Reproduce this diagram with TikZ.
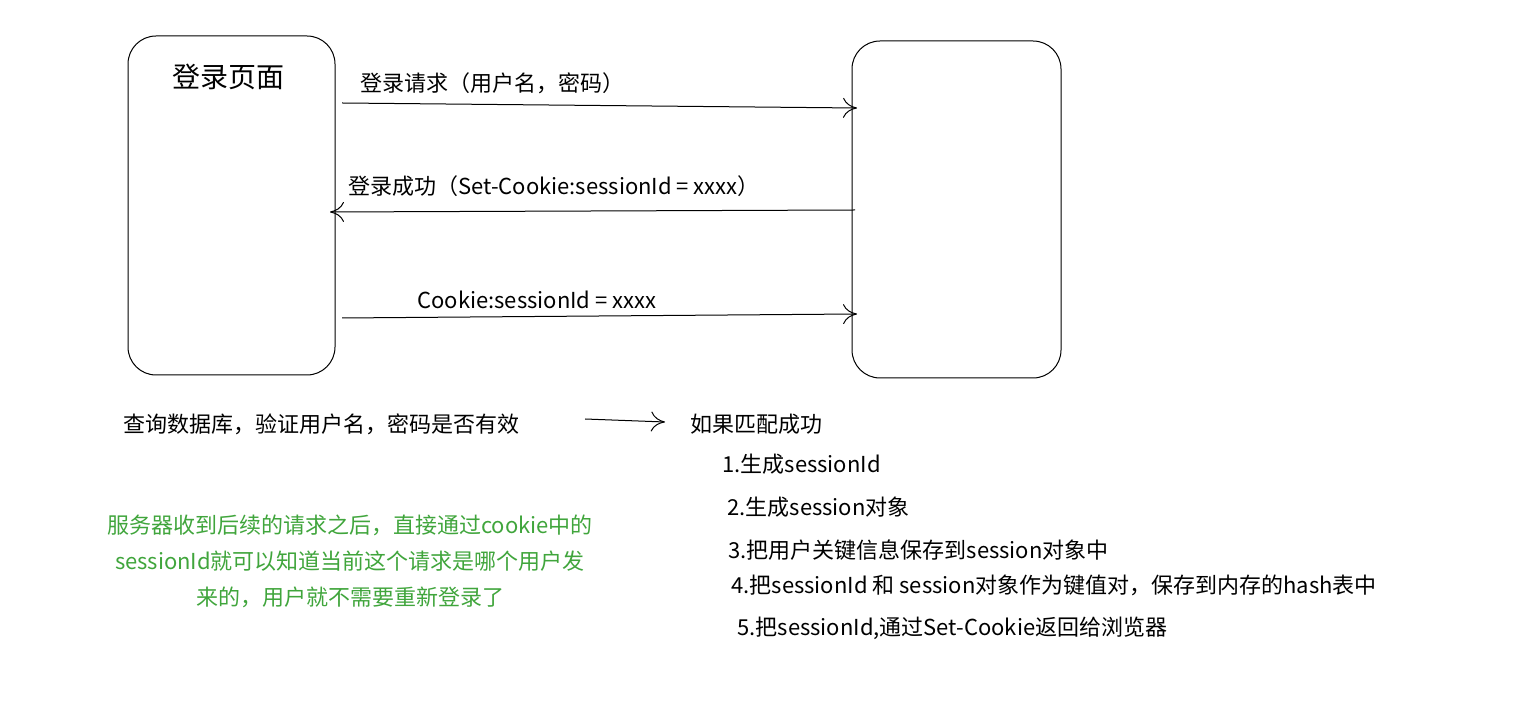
\documentclass[tikz,border=0pt]{standalone}
\usepackage{fontspec}
\setmainfont{Noto Sans CJK SC}
\usetikzlibrary{positioning,arrows.meta}
\definecolor{notegreen}{RGB}{64,165,60}
\tikzset{
  page/.style={draw, rounded corners=14pt, line width=0.5pt},
  msg/.style={-{To[length=7pt,width=10pt]}, line width=0.5pt},
  txt/.style={anchor=west, font=\fontsize{11}{13}\selectfont, inner sep=0pt}
}
\begin{document}
\begin{tikzpicture}[x=0.5pt,y=-0.5pt]
  \useasboundingbox (0,0) rectangle (1540,704);

  % the two sides
  \node[page, minimum width=103.5pt, minimum height=169.5pt] (client) at (231.5,205.5) {};
  \node[page, minimum width=104.5pt, minimum height=168.5pt] (server) at (956.5,209.5) {};
  \node[font=\fontsize{14}{16}\selectfont] (title) at (228,77) {登录页面};

  % messages
  \coordinate (a1) at (342,103); \coordinate (b1) at (857,108);
  \coordinate (a2) at (855,210); \coordinate (b2) at (330,212);
  \coordinate (a3) at (342,318); \coordinate (b3) at (857,314);
  \draw[msg] (a1) -- (b1);
  \draw[msg] (a2) -- (b2);
  \draw[msg] (a3) -- (b3);
  \node[txt] (m1) at (360,83) {登录请求（用户名，密码）};
  \node[txt] (m2) at (348,186) {登录成功（Set-Cookie:sessionId = xxxx）};
  \node[txt] (m3) at (417,300) {Cookie:sessionId = xxxx};

  % server side steps
  \node[txt] (check) at (123,424) {查询数据库，验证用户名，密码是否有效};
  \node[txt] (match) at (690,424) {如果匹配成功};
  \coordinate (c0) at (585,419); \coordinate (c1) at (665,422);
  \draw[msg] (c0) -- (c1);
  \node[txt] (s1) at (722,464) {1.生成sessionId};
  \node[txt] (s2) at (727,507) {2.生成session对象};
  \node[txt] (s3) at (728,550) {3.把用户关键信息保存到session对象中};
  \node[txt] (s4) at (731,585) {4.把sessionId 和 session对象作为键值对，保存到内存的hash表中};
  \node[txt] (s5) at (737,628) {5.把sessionId,通过Set-Cookie返回给浏览器};

  % note
  \node[align=center, text=notegreen, font=\fontsize{11}{18}\selectfont] (note) at (350,561)
    {服务器收到后续的请求之后，直接通过cookie中的\\sessionId就可以知道当前这个请求是哪个用户发\\来的，用户就不需要重新登录了};
\end{tikzpicture}
\end{document}
